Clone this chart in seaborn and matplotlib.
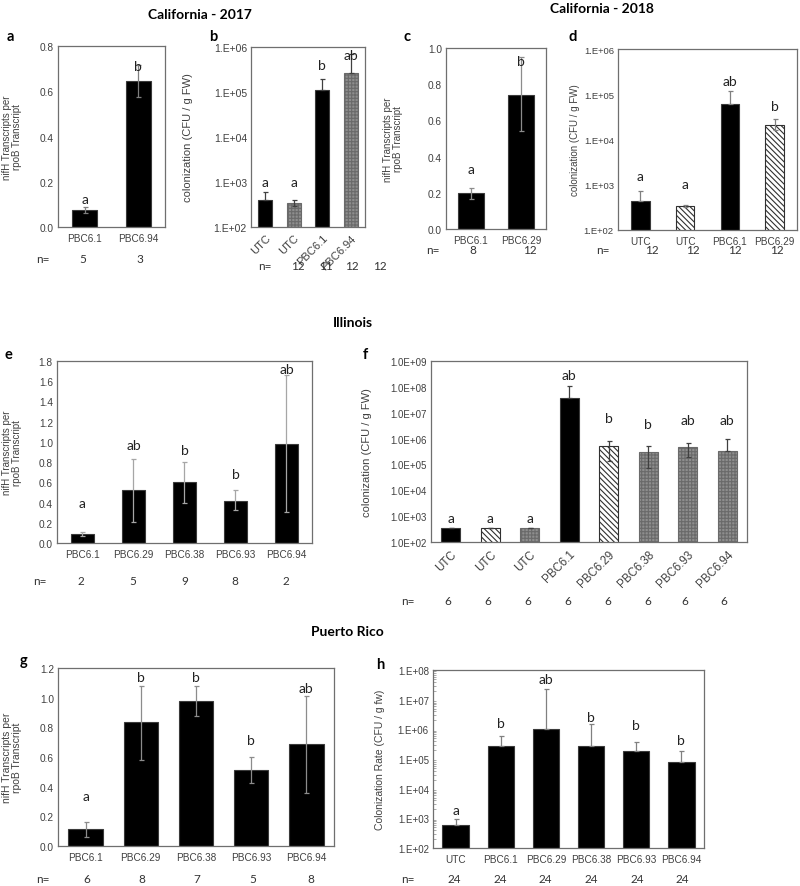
import numpy as np
import matplotlib
matplotlib.use('Agg')
import matplotlib.pyplot as plt
import seaborn as sns
from matplotlib.ticker import FixedLocator, FuncFormatter, NullLocator, LogLocator

sns.set_theme(style='white')
plt.rcParams['font.family'] = ['Liberation Sans', 'DejaVu Sans']
plt.rcParams['hatch.linewidth'] = 0.8

# ---------------- data ----------------
# California 2017
a_labels = ['PBC6.1', 'PBC6.94']
a_vals = [0.075, 0.645]
a_lo = [0.06, 0.575]
a_hi = [0.09, 0.715]
a_let = ['a', 'b']
a_let_y = [0.125, 0.712]
a_n = ['5', '3']

b_labels = ['UTC', 'UTC', 'PBC6.1', 'PBC6.94']
b_vals = [400, 345, 1.1e5, 2.6e5]
b_lo = [400, 290, 1.1e5, 2.6e5]
b_hi = [600, 400, 1.9e5, 7.0e5]
b_fill = ['solid', 'check', 'solid', 'check']
b_let = ['a', 'a', 'b', 'ab']
b_let_y = [1.0e3, 1.0e3, 3.9e5, 6.8e5]
b_n = ['12', '11', '12', '12']

# California 2018
c_labels = ['PBC6.1', 'PBC6.29']
c_vals = [0.197, 0.742]
c_lo = [0.166, 0.539]
c_hi = [0.227, 0.95]
c_let = ['a', 'b']
c_let_y = [0.33, 0.926]
c_n = ['8', '12']

d_labels = ['UTC', 'UTC', 'PBC6.1', 'PBC6.29']
d_vals = [430, 333, 6.0e4, 2.1e4]
d_lo = [430, 320, 6.0e4, 1.6e4]
d_hi = [716, 355, 1.2e5, 2.8e4]
d_fill = ['solid', 'stripe', 'solid', 'stripe']
d_let = ['a', 'a', 'ab', 'b']
d_let_y = [1.6e3, 1.05e3, 2.0e5, 5.6e4]
d_n = ['12', '12', '12', '12']

# Illinois
e_labels = ['PBC6.1', 'PBC6.29', 'PBC6.38', 'PBC6.93', 'PBC6.94']
e_vals = [0.089, 0.52, 0.60, 0.42, 0.98]
e_lo = [0.07, 0.204, 0.40, 0.33, 0.31]
e_hi = [0.105, 0.835, 0.80, 0.52, 1.665]
e_let = ['a', 'ab', 'b', 'b', 'ab']
e_let_y = [0.40, 0.967, 0.918, 0.687, 1.717]
e_n = ['2', '5', '9', '8', '2']

f_labels = ['UTC', 'UTC', 'UTC', 'PBC6.1', 'PBC6.29', 'PBC6.38', 'PBC6.93', 'PBC6.94']
f_vals = [347, 347, 347, 3.8e7, 5.0e5, 2.9e5, 4.6e5, 3.4e5]
f_lo = [347, 347, 347, 3.8e7, 1.4e5, 7.0e4, 1.9e5, 3.4e5]
f_hi = [347, 347, 347, 1.08e8, 8.2e5, 5.3e5, 7.0e5, 1.0e6]
f_fill = ['solid', 'stripe', 'check', 'solid', 'stripe', 'check', 'check', 'check']
f_let = ['a', 'a', 'a', 'ab', 'b', 'b', 'ab', 'ab']
f_let_y = [840, 840, 840, 2.9e8, 6.5e6, 3.6e6, 5.3e6, 5.3e6]
f_n = ['6'] * 8

# Puerto Rico
g_labels = ['PBC6.1', 'PBC6.29', 'PBC6.38', 'PBC6.93', 'PBC6.94']
g_vals = [0.113, 0.833, 0.977, 0.511, 0.685]
g_lo = [0.063, 0.58, 0.874, 0.428, 0.36]
g_hi = [0.162, 1.08, 1.08, 0.597, 1.009]
g_let = ['a', 'b', 'b', 'b', 'ab']
g_let_y = [0.338, 1.137, 1.137, 0.716, 1.065]
g_n = ['6', '8', '7', '5', '8']

h_labels = ['UTC', 'PBC6.1', 'PBC6.29', 'PBC6.38', 'PBC6.93', 'PBC6.94']
h_vals = [577, 2.8e5, 1.0e6, 2.75e5, 1.8e5, 7.8e4]
h_lo = [577, 2.8e5, 1.0e6, 2.75e5, 1.8e5, 7.8e4]
h_hi = [920, 5.9e5, 2.36e7, 1.47e6, 3.6e5, 1.85e5]
h_let = ['a', 'b', 'ab', 'b', 'b', 'b']
h_let_y = [1.9e3, 1.6e6, 5.1e7, 2.6e6, 1.4e6, 4.5e5]
h_n = ['24'] * 6

nif_label = 'nifH Transcripts per\nrpoB Transcript'
col_label = 'colonization (CFU / g FW)'

# ---------------- styles ----------------
FILLS = {
    'solid': ('black', None, '#3a3a3a'),
    'check': ('#8e8e8e', '+++++', '#6a6a6a'),
    'stripe': ('white', '\\' * 6, '#303030'),
}
TXT = '#404040'
W, H = 800, 887

fig = plt.figure(figsize=(8, 8.87), dpi=100)


def box(l, r, t, b):
    return fig.add_axes([l / W, 1 - b / H, (r - l) / W, (b - t) / H])


def ftext(x, y, s, **kw):
    fig.text(x / W, 1 - y / H, s, **kw)


def panel(ax, labels, vals, lo, hi, lets, let_y, fills=None, width=0.5,
          ecolor='#808080', log_top=None, fmt='1.E+%02d', ymax=None,
          rot=0, xfs=7.2, yfs=7.3, ylabel='', ylfs=7, ylab_x=0.0,
          minor=False):
    n = len(vals)
    keys = [str(i) for i in range(n)]
    sns.barplot(x=keys, y=vals, color='black', saturation=1, width=width,
                errorbar=None, ax=ax)
    if fills is None:
        fills = ['solid'] * n
    for p, f in zip(ax.patches, fills):
        fc, hatch, ec = FILLS[f]
        p.set_facecolor(fc)
        p.set_edgecolor(ec)
        p.set_linewidth(0.8)
        if hatch:
            p.set_hatch(hatch)
    v = np.array(vals)
    yerr = [v - np.array(lo), np.array(hi) - v]
    ax.errorbar(np.arange(n), v, yerr=yerr, fmt='none', ecolor=ecolor,
                elinewidth=0.9, capsize=1.8, capthick=0.9, zorder=5)
    for i, (s, y) in enumerate(zip(lets, let_y)):
        ax.text(i, y, s, ha='center', va='center', fontsize=10,
                family=['Lato', 'DejaVu Sans'], color='#222222', zorder=6)
    ax.set_xlim(-0.5, n - 0.5)
    if log_top is not None:
        ax.set_yscale('log')
        ax.set_ylim(1e2, 10.0 ** log_top)
        ax.yaxis.set_major_locator(FixedLocator(10.0 ** np.arange(2, log_top + 1)))
        ax.yaxis.set_major_formatter(
            FuncFormatter(lambda y, pos: fmt % round(np.log10(y))))
        if minor:
            ax.yaxis.set_minor_locator(LogLocator(base=10, subs=np.arange(2, 10)))
            ax.tick_params(axis='y', which='minor', left=True, direction='in',
                           length=2, width=0.5, color='#888888')
        else:
            ax.yaxis.set_minor_locator(NullLocator())
    else:
        ax.set_ylim(0, ymax)
        ax.yaxis.set_major_locator(FixedLocator(np.arange(0, ymax + 1e-9, 0.2)))
        ax.yaxis.set_major_formatter(FuncFormatter(lambda y, pos: '%.1f' % y))
    ax.set_xticks(range(n))
    if rot:
        ax.set_xticklabels(labels, rotation=rot, ha='right',
                           rotation_mode='anchor', fontsize=xfs, color=TXT)
    else:
        ax.set_xticklabels(labels, fontsize=xfs, color=TXT)
    ax.tick_params(axis='both', which='major', length=0, labelsize=yfs,
                   labelcolor=TXT, pad=3)
    ax.tick_params(axis='x', labelsize=xfs, pad=4)
    ax.set_xlabel('')
    ax.set_ylabel(ylabel, fontsize=ylfs, color=TXT, linespacing=1.0)
    ax.yaxis.set_label_coords(ylab_x, 0.5)
    for sp in ax.spines.values():
        sp.set_visible(True)
        sp.set_color('#6f6f6f')
        sp.set_linewidth(0.9)
    ax.grid(False)


def px_to_axes(px, l, r):
    return (px - l) / (r - l)


# ---------------- panels ----------------
ax_a = box(58, 165, 47, 228)
panel(ax_a, a_labels, a_vals, a_lo, a_hi, a_let, a_let_y, width=0.47,
      ecolor='#7f7f7f', ymax=0.8, ylabel=nif_label, ylab_x=px_to_axes(22, 58, 165))

ax_b = box(251, 365, 48, 228)
panel(ax_b, b_labels, b_vals, b_lo, b_hi, b_let, b_let_y, fills=b_fill,
      width=0.5, ecolor='#404040', log_top=6, rot=45, xfs=8, yfs=7.5,
      ylabel=col_label, ylfs=8, ylab_x=px_to_axes(193, 251, 365))

ax_c = box(446, 546, 49, 230)
panel(ax_c, c_labels, c_vals, c_lo, c_hi, c_let, c_let_y, width=0.52,
      ecolor='#8c8c8c', ymax=1.0, ylabel=nif_label, ylab_x=px_to_axes(403, 446, 546))

ax_d = box(618, 797, 50, 231)
panel(ax_d, d_labels, d_vals, d_lo, d_hi, d_let, d_let_y, fills=d_fill,
      width=0.41, ecolor='#808080', log_top=6, yfs=6.8,
      ylabel=col_label, ylfs=7, ylab_x=px_to_axes(580, 618, 797))

ax_e = box(57, 312, 362, 544)
panel(ax_e, e_labels, e_vals, e_lo, e_hi, e_let, e_let_y, width=0.47,
      ecolor='#a6a6a6', ymax=1.8, ylabel=nif_label, ylab_x=px_to_axes(22, 57, 312))

ax_f = box(431, 747, 362, 543)
panel(ax_f, f_labels, f_vals, f_lo, f_hi, f_let, f_let_y, fills=f_fill,
      width=0.49, ecolor='#404040', log_top=9, fmt='1.0E+%02d', rot=45,
      xfs=8.3, yfs=7, ylabel=col_label, ylfs=8, ylab_x=px_to_axes(372, 431, 747))

ax_g = box(58, 334, 669, 847)
panel(ax_g, g_labels, g_vals, g_lo, g_hi, g_let, g_let_y, width=0.62,
      ecolor='#8c8c8c', ymax=1.2, ylabel=nif_label, ylfs=7.5,
      ylab_x=px_to_axes(22, 58, 334))

ax_h = box(433, 704, 671, 849)
panel(ax_h, h_labels, h_vals, h_lo, h_hi, h_let, h_let_y, width=0.58,
      ecolor='#808080', log_top=8, yfs=7, ylabel='Colonization Rate (CFU / g fw)',
      ylfs=7.5, ylab_x=px_to_axes(385, 433, 704), minor=True)

# ---------------- titles, panel letters, n= rows ----------------
head = dict(family=['Lato', 'DejaVu Sans'], fontweight='bold', fontsize=10,
            ha='center', va='center', color='black')
ftext(200, 15, 'California - 2017', **head)
ftext(602, 9, 'California - 2018', **head)
ftext(353, 323, 'Illinois', **head)
ftext(347, 632, 'Puerto Rico', **head)

letter = dict(family=['Lato', 'DejaVu Sans'], fontweight='bold', fontsize=10.5,
              ha='center', va='center', color='black')
for s, x, y in [('a', 10, 37), ('b', 213, 37), ('c', 407, 37), ('d', 573, 37),
                ('e', 8, 355), ('f', 365, 355), ('g', 24, 661), ('h', 380, 665)]:
    ftext(x, y, s, **letter)

nstyle = dict(family=['Lato', 'DejaVu Sans'], fontsize=8.5, ha='center',
              va='center', color='#333333')
n_rows = [
    (a_n, 43, [83, 140], 260),
    (b_n, 265, [298, 326, 352, 380], 266),
    (c_n, 433, [473, 530], 251),
    (d_n, 603, [652, 693, 735, 777], 251),
    (e_n, 40, [81, 133, 185, 235, 286], 582),
    (f_n, 408, [448, 488, 528, 568, 608, 648, 685, 724], 602),
    (g_n, 43, [87, 142, 197, 253, 311], 880),
    (h_n, 408, [454, 500, 545, 591, 637, 682], 880),
]
for vals, nx, xs, y in n_rows:
    ftext(nx, y, 'n=', **nstyle)
    for s, x in zip(vals, xs):
        ftext(x, y, s, **nstyle)

fig.savefig('out.png', dpi=100, facecolor='white')
